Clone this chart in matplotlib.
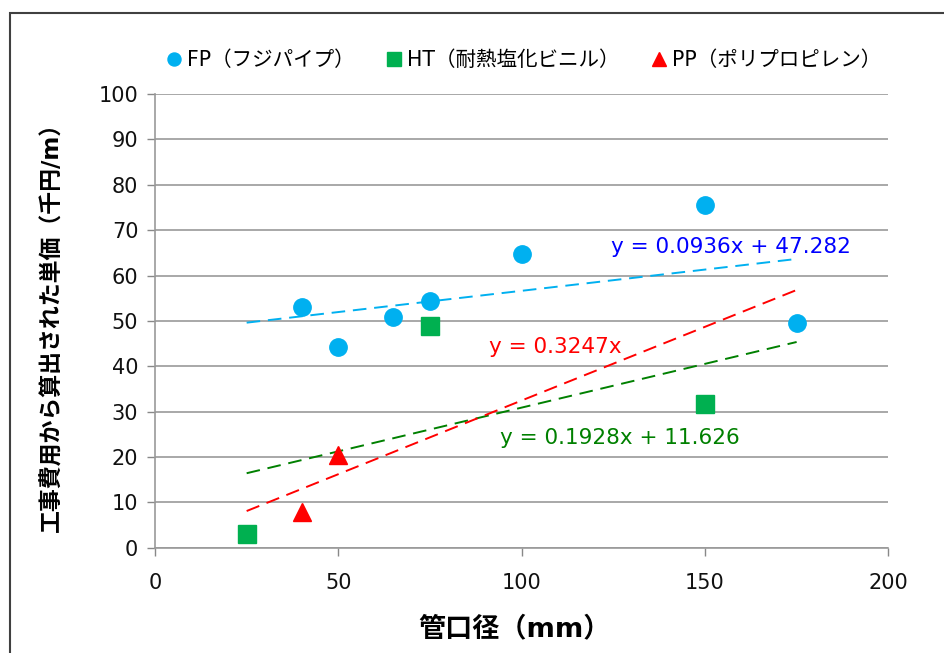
import numpy as np
import matplotlib
matplotlib.use('Agg')
from matplotlib import pyplot as plt
from matplotlib.patches import Rectangle

plt.rcParams['font.family'] = ['DejaVu Sans', 'Noto Sans CJK JP']

# Datos
fp_x = [40, 50, 65, 75, 100, 150, 175]
fp_y = [53.0, 44.2, 50.8, 54.5, 64.8, 75.6, 49.5]
ht_x = [25, 75, 150]
ht_y = [3.0, 48.8, 31.6]
pp_x = [40, 50]
pp_y = [7.8, 20.5]

# Coeficientes de las líneas de tendencia (pendiente, intercepto)
fp_fit = (0.0936, 47.282)
ht_fit = (0.1928, 11.626)
pp_fit = (0.3247, 0.0)
trend_range = [25, 175]

series = [
    ('FP（フジパイプ）', fp_x, fp_y, 'o', '#00B0F0', fp_fit, '#00B0F0',
     'y = 0.0936x + 47.282', '#0000FF', (124.5, 66.3)),
    ('HT（耐熱塩化ビニル）', ht_x, ht_y, 's', '#00B050', ht_fit, '#008000',
     'y = 0.1928x + 11.626', '#008000', (94.0, 24.3)),
    ('PP（ポリプロピレン）', pp_x, pp_y, '^', '#FF0000', pp_fit, '#FF0000',
     'y = 0.3247x', '#FF0000', (91.0, 44.3)),
]

fig = plt.figure(figsize=(9.45, 6.53), dpi=100)
ax = fig.add_axes([0.164, 0.161, 0.776, 0.695])

for nombre, xs, ys, marcador, color, fit, color_linea, eq, color_eq, pos in series:
    ax.plot(xs, ys, linestyle='none', marker=marcador, markersize=12.5,
            color=color, label=nombre, zorder=3)
    tx = np.array(trend_range, dtype=float)
    ax.plot(tx, fit[0] * tx + fit[1], linestyle=(0, (7, 4)), linewidth=1.4,
            color=color_linea, zorder=2)
    ax.text(pos[0], pos[1], eq, color=color_eq, fontsize=15.5,
            ha='left', va='center')

ax.set_xlim(0, 200)
ax.set_ylim(0, 100)
ax.set_xticks(range(0, 201, 50))
ax.set_yticks(range(0, 101, 10))
ax.tick_params(labelsize=15, colors='#888888', labelcolor='#111111',
               length=6, width=1)
ax.tick_params(axis='y', pad=6)
ax.tick_params(axis='x', pad=12)

ax.grid(axis='y', color='#999999', linewidth=1.2)
ax.set_axisbelow(True)
for lado in ['top', 'right']:
    ax.spines[lado].set_visible(False)
for lado in ['left', 'bottom']:
    ax.spines[lado].set_color('#999999')
    ax.spines[lado].set_linewidth(1.2)

ax.set_xlabel('管口径（mm）', fontsize=19.5, fontweight='bold', va='center')
ax.xaxis.set_label_coords(0.49, -0.18)
ax.set_ylabel('工事費用から算出された単価（千円/m）', fontsize=16.5,
              fontweight='bold', va='center')
ax.yaxis.set_label_coords(-0.14, 0.5)

ax.legend(loc='center', bbox_to_anchor=(0.5, 1.075), ncol=3,
          frameon=False, fontsize=14.8, handletextpad=0.05, columnspacing=1.3,
          markerscale=0.75, handlelength=1.2)

# Borde del área del gráfico
fig.patches.append(Rectangle((10 / 945, -0.1), 1.2, 1 - 13 / 653 + 0.1,
                             transform=fig.transFigure, fill=False,
                             edgecolor='#404040', linewidth=1.5))

fig.savefig('out.png', dpi=100)
plt.close(fig)
